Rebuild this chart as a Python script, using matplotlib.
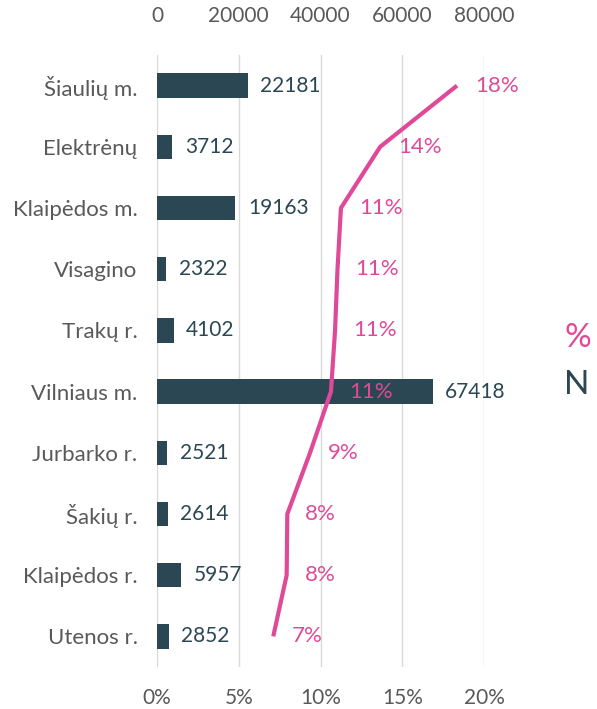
import matplotlib.pyplot as plt

plt.rcParams['font.family'] = ['Lato', 'DejaVu Sans']

# data
places = ['Šiaulių m.', 'Elektrėnų', 'Klaipėdos m.', 'Visagino', 'Trakų r.',
          'Vilniaus m.', 'Jurbarko r.', 'Šakių r.', 'Klaipėdos r.', 'Utenos r.']
n_vals = [22181, 3712, 19163, 2322, 4102, 67418, 2521, 2614, 5957, 2852]
pct_vals = [18.35, 13.65, 11.25, 11.04, 10.89, 10.64, 9.36, 7.97, 7.93, 7.11]
n_ticks = [0, 20000, 40000, 60000, 80000]
pct_ticks = [0, 5, 10, 15, 20]

bar_col = '#2A4753'
pink = '#DE4A98'
grey = '#595959'
grid_col = '#D9D9D9'

fig = plt.figure(figsize=(5.97, 7.09), dpi=100)
ax = fig.add_axes([157/597, 1-667/709, 327/597, 612/709])

ypos = list(range(len(places)))
ax.barh(ypos, n_vals, height=0.4, color=bar_col, zorder=2)
for y, v in zip(ypos, n_vals):
    ax.annotate(str(v), (v, y), xytext=(9, 0), textcoords='offset points',
                ha='left', va='center', fontsize=15, color=bar_col, zorder=5)

ax.set_xlim(0, 80000)
ax.set_ylim(len(places)-0.5, -0.5)
ax.set_yticks(ypos)
ax.set_yticklabels(places)
ax.tick_params(axis='y', length=0, pad=14, labelsize=16, labelcolor=grey)
ax.grid(axis='x', color=grid_col, lw=1, zorder=0)
for s in ax.spines.values():
    s.set_visible(False)

ax2 = ax.twiny()
ax2.plot(pct_vals, ypos, color=pink, lw=3, zorder=3, solid_capstyle='butt')
for y, p in zip(ypos, pct_vals):
    ax2.annotate('%d%%' % round(p), (p, y), xytext=(13, 0), textcoords='offset points',
                 ha='left', va='center', fontsize=16, color=pink, zorder=6)
ax2.set_xlim(0, 20)
for s in ax2.spines.values():
    s.set_visible(False)

# N axis on top, % axis at the bottom (set after twiny, which swaps them)
ax.xaxis.tick_top()
ax.set_xticks(n_ticks)
ax.set_xticklabels([str(t) for t in n_ticks])
ax.tick_params(axis='x', length=0, pad=21, labelsize=15, labelcolor=grey)
ax2.xaxis.tick_bottom()
ax2.set_xticks(pct_ticks)
ax2.set_xticklabels(['%d%%' % t for t in pct_ticks])
ax2.tick_params(axis='x', length=0, pad=15, labelsize=15, labelcolor=grey)

fig.text(578/597, 1-338/709, '%', color=pink, fontsize=24, ha='center', va='center')
fig.text(577/597, 1-385/709, 'N', color=bar_col, fontsize=24, ha='center', va='center')

fig.savefig('out.png', dpi=100)
